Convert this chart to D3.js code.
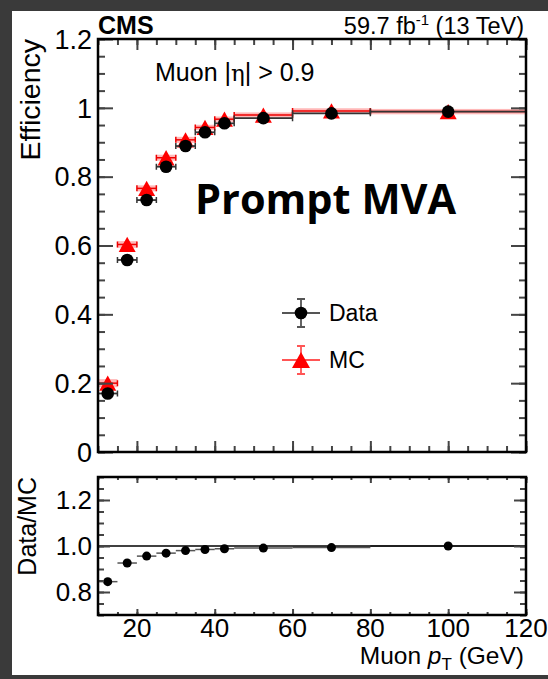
<!DOCTYPE html>
<html>
<head>
<meta charset="utf-8">
<script src="https://cdn.jsdelivr.net/npm/d3@7"></script>
<style>
  html, body { margin: 0; padding: 0; background: #3a3a3a; }
  svg { display: block; }
  text { font-family: "Liberation Sans", Arial, Helvetica, sans-serif; fill: #000; }
</style>
</head>
<body>
<svg id="chart" width="548" height="679"></svg>
<script>
// Muon pT bins (GeV)
const binLow    = [10, 15, 20, 25, 30, 35, 40, 45, 60, 80];
const binHigh   = [15, 20, 25, 30, 35, 40, 45, 60, 80, 120];
const binCenter = [12.5, 17.5, 22.5, 27.5, 32.5, 37.5, 42.5, 52.5, 70, 100];

// Prompt MVA efficiency, |eta| > 0.9
const effData = [0.170, 0.558, 0.732, 0.829, 0.889, 0.929, 0.955, 0.970, 0.984, 0.989];
const effMC   = [0.200, 0.603, 0.766, 0.855, 0.907, 0.943, 0.967, 0.979, 0.991, 0.989];
const effErr  = [0.006, 0.004, 0.003, 0.003, 0.003, 0.002, 0.002, 0.002, 0.002, 0.002];

// Data/MC scale factors
const ratio    = [0.845, 0.926, 0.956, 0.969, 0.980, 0.985, 0.988, 0.991, 0.993, 1.000];
const ratioErr = [0.006, 0.005, 0.004, 0.004, 0.004, 0.003, 0.003, 0.003, 0.003, 0.003];

// Axis ticks
const effTicks      = [0, 0.2, 0.4, 0.6, 0.8, 1.0, 1.2];
const effTickLabels = ["0", "0.2", "0.4", "0.6", "0.8", "1", "1.2"];
const ratioTicks      = [0.8, 1.0, 1.2];
const ratioTickLabels = ["0.8", "1.0", "1.2"];
const ptTicks      = [20, 40, 60, 80, 100, 120];
const ptTickLabels = ["20", "40", "60", "80", "100", "120"];

const svg = d3.select("#chart");

// white canvas inside the dark border
svg.append("rect").attr("x", 12).attr("y", 11).attr("width", 536).attr("height", 664).attr("fill", "#fff");

const L = 98, R = 526;
const top1 = 39, bot1 = 452;
const top2 = 477, bot2 = 615;

const x = d3.scaleLinear().domain([10, 120]).range([L, R]);
const y1 = d3.scaleLinear().domain([0, 1.2]).range([bot1, top1]);
const y2 = d3.scaleLinear().domain([0.7, 1.3]).range([bot2, top2]);

const tickColor = "#444";
const labelSize = 27;

function frameTicks(g, yScale, yTop, yBot, yMajor, yMinor, xMajLen, xMinLen, yMajLen, yMinLen) {
  const xMinor = d3.range(10, 121, 5);
  // bottom & top x ticks
  g.append("g").attr("transform", `translate(0,${yBot})`)
    .call(d3.axisBottom(x).tickValues(xMinor).tickSize(-xMinLen).tickFormat(""));
  g.append("g").attr("transform", `translate(0,${yBot})`)
    .call(d3.axisBottom(x).tickValues(ptTicks).tickSize(-xMajLen).tickFormat(""));
  g.append("g").attr("transform", `translate(0,${yTop})`)
    .call(d3.axisTop(x).tickValues(xMinor).tickSize(-xMinLen).tickFormat(""));
  g.append("g").attr("transform", `translate(0,${yTop})`)
    .call(d3.axisTop(x).tickValues(ptTicks).tickSize(-xMajLen).tickFormat(""));
  // left & right y ticks
  g.append("g").attr("transform", `translate(${L},0)`)
    .call(d3.axisLeft(yScale).tickValues(yMinor).tickSize(-yMinLen).tickFormat(""));
  g.append("g").attr("transform", `translate(${L},0)`)
    .call(d3.axisLeft(yScale).tickValues(yMajor).tickSize(-yMajLen).tickFormat(""));
  g.append("g").attr("transform", `translate(${R},0)`)
    .call(d3.axisRight(yScale).tickValues(yMinor).tickSize(-yMinLen).tickFormat(""));
  g.append("g").attr("transform", `translate(${R},0)`)
    .call(d3.axisRight(yScale).tickValues(yMajor).tickSize(-yMajLen).tickFormat(""));
  g.selectAll(".domain").remove();
  g.selectAll(".tick line").attr("stroke", tickColor).attr("stroke-width", 2);
  // frame
  g.append("rect").attr("x", L).attr("y", yTop).attr("width", R - L).attr("height", yBot - yTop)
    .attr("fill", "none").attr("stroke", "#000").attr("stroke-width", 2.5);
}

// ---------- upper panel: efficiency ----------
const up = svg.append("g");

const idx = d3.range(binCenter.length);

// MC: red bars with a translucent band
const mc = up.append("g");
mc.selectAll("rect.band").data(idx).join("rect")
  .attr("x", i => x(binLow[i])).attr("width", i => x(binHigh[i]) - x(binLow[i]))
  .attr("y", i => y1(effMC[i] + effErr[i]) - 2).attr("height", i => y1(effMC[i] - effErr[i]) - y1(effMC[i] + effErr[i]) + 4)
  .attr("fill", "rgba(255,0,0,0.28)");
mc.selectAll("line.h").data(idx).join("line")
  .attr("x1", i => x(binLow[i])).attr("x2", i => x(binHigh[i]))
  .attr("y1", i => y1(effMC[i])).attr("y2", i => y1(effMC[i]))
  .attr("stroke", "#e00").attr("stroke-width", 1.5);
mc.selectAll("path.cap").data(idx).join("path")
  .attr("d", i => `M${x(binLow[i])},${y1(effMC[i]) - 3}V${y1(effMC[i]) + 3}M${x(binHigh[i])},${y1(effMC[i]) - 3}V${y1(effMC[i]) + 3}`)
  .attr("stroke", "#e00").attr("stroke-width", 1.5);

// Data: black bars with end caps
const dt = up.append("g");
dt.selectAll("line.h").data(idx).join("line")
  .attr("x1", i => x(binLow[i])).attr("x2", i => x(binHigh[i]))
  .attr("y1", i => y1(effData[i])).attr("y2", i => y1(effData[i]))
  .attr("stroke", "#333").attr("stroke-width", 1.8);
dt.selectAll("path.cap").data(idx).join("path")
  .attr("d", i => `M${x(binLow[i])},${y1(effData[i]) - 3}V${y1(effData[i]) + 3}M${x(binHigh[i])},${y1(effData[i]) - 3}V${y1(effData[i]) + 3}`)
  .attr("stroke", "#333").attr("stroke-width", 1.5);

// markers: triangles for MC, circles for data
const triSize = 17;
function triPath(cx, cy, s) {
  const h = s * 0.9;
  return `M${cx},${cy - h / 2}L${cx + s / 2},${cy + h / 2}L${cx - s / 2},${cy + h / 2}Z`;
}
mc.selectAll("path.tri").data(idx).join("path")
  .attr("d", i => triPath(x(binCenter[i]), y1(effMC[i]), triSize))
  .attr("fill", "#f00");
dt.selectAll("circle").data(idx).join("circle")
  .attr("cx", i => x(binCenter[i])).attr("cy", i => y1(effData[i])).attr("r", 6.3)
  .attr("fill", "#000");

frameTicks(up, y1, top1, bot1, effTicks, d3.range(0, 1.2001, 0.05).map(v => +v.toFixed(2)), 11, 6, 15, 7);

// y tick labels
up.selectAll("text.yl").data(effTicks).join("text")
  .attr("x", L - 6).attr("y", d => y1(d)).attr("dy", "0.36em")
  .attr("text-anchor", "end").attr("font-size", labelSize)
  .text((d, i) => effTickLabels[i]);

// titles
svg.append("text").attr("transform", `translate(40,${top1}) rotate(-90)`)
  .attr("text-anchor", "end").attr("font-size", 28.5).text("Efficiency");

svg.append("text").attr("x", L).attr("y", 34).attr("font-size", 25).attr("font-weight", "bold").text("CMS");

const lumi = svg.append("text").attr("x", R - 2).attr("y", 34).attr("text-anchor", "end").attr("font-size", 23.5);
lumi.append("tspan").text("59.7 fb");
lumi.append("tspan").attr("font-size", 15).attr("dy", -9).text("-1");
lumi.append("tspan").attr("dy", 9).text(" (13 TeV)");

const eta = svg.append("text").attr("x", 155).attr("y", 81).attr("font-size", 25);
eta.append("tspan").text("Muon |");
eta.append("tspan").attr("font-family", "DejaVu Serif, serif").attr("font-size", 23).text("η");
eta.append("tspan").text("| > 0.9");

svg.append("text").attr("x", 195).attr("y", 214)
  .attr("font-weight", 700).attr("font-size", 41.5)
  .style("font-family", "'Open Sans', Lato, sans-serif")
  .text("Prompt MVA");

// legend
const leg = svg.append("g");
const legX = 301;
const legRows = [
  { label: "Data", y: 313, color: "#000", bar: "#555", marker: "circle" },
  { label: "MC", y: 360, color: "#f00", bar: "#f55", marker: "tri" }
];
legRows.forEach(r => {
  leg.append("line").attr("x1", legX - 19).attr("x2", legX + 19).attr("y1", r.y).attr("y2", r.y)
    .attr("stroke", r.bar).attr("stroke-width", 2);
  leg.append("path")
    .attr("d", `M${legX},${r.y - 14}V${r.y + 14}M${legX - 4},${r.y - 14}H${legX + 4}M${legX - 4},${r.y + 14}H${legX + 4}`)
    .attr("stroke", r.bar).attr("stroke-width", 1.8);
  if (r.marker === "circle") {
    leg.append("circle").attr("cx", legX).attr("cy", r.y).attr("r", 6.3).attr("fill", r.color);
  } else {
    leg.append("path").attr("d", triPath(legX, r.y, 18)).attr("fill", r.color);
  }
  leg.append("text").attr("x", legX + 28).attr("y", r.y).attr("dy", "0.36em").attr("font-size", 23).text(r.label);
});

// ---------- lower panel: Data/MC ----------
const lo = svg.append("g");

lo.selectAll("line.h").data(idx).join("line")
  .attr("x1", i => x(binLow[i])).attr("x2", i => x(binHigh[i]))
  .attr("y1", i => y2(ratio[i])).attr("y2", i => y2(ratio[i]))
  .attr("stroke", "#555").attr("stroke-width", 1.5);
lo.selectAll("line.v").data(idx).join("line")
  .attr("x1", i => x(binCenter[i])).attr("x2", i => x(binCenter[i]))
  .attr("y1", i => y2(ratio[i] - ratioErr[i])).attr("y2", i => y2(ratio[i] + ratioErr[i]))
  .attr("stroke", "#555").attr("stroke-width", 1.5);

lo.append("line").attr("x1", L).attr("x2", R).attr("y1", y2(1)).attr("y2", y2(1))
  .attr("stroke", "#000").attr("stroke-width", 1.5);

lo.selectAll("circle").data(idx).join("circle")
  .attr("cx", i => x(binCenter[i])).attr("cy", i => y2(ratio[i])).attr("r", 4.5).attr("fill", "#000");

frameTicks(lo, y2, top2, bot2, ratioTicks, d3.range(0.7, 1.3001, 0.05).map(v => +v.toFixed(2)), 6, 3, 12, 6);

lo.selectAll("text.yl").data(ratioTicks).join("text")
  .attr("x", L - 6).attr("y", d => y2(d)).attr("dy", "0.36em")
  .attr("text-anchor", "end").attr("font-size", 26)
  .text((d, i) => ratioTickLabels[i]);

lo.selectAll("text.xl").data(ptTicks).join("text")
  .attr("x", d => x(d)).attr("y", 637)
  .attr("text-anchor", "middle").attr("font-size", 26)
  .text((d, i) => ptTickLabels[i]);

svg.append("text").attr("transform", `translate(36,${top2}) rotate(-90)`)
  .attr("text-anchor", "end").attr("font-size", 25).text("Data/MC");

const xt = svg.append("text").attr("x", R - 2).attr("y", 664).attr("text-anchor", "end").attr("font-size", 24.5);
xt.append("tspan").text("Muon ");
xt.append("tspan").attr("font-style", "italic").text("p");
xt.append("tspan").attr("font-size", 17).attr("dy", 6).text("T");
xt.append("tspan").attr("dy", -6).text(" (GeV)");
</script>
</body>
</html>
